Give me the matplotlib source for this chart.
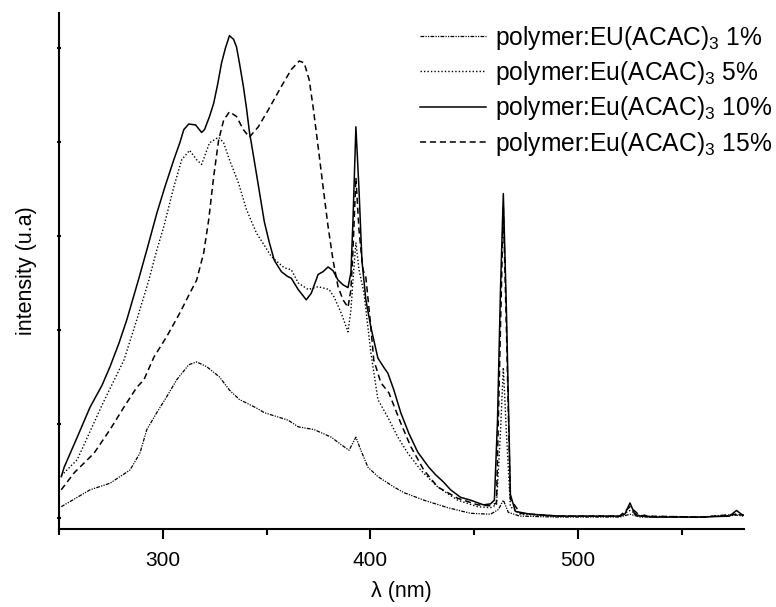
import matplotlib
matplotlib.use("Agg")
import matplotlib.pyplot as plt
from matplotlib.ticker import MultipleLocator, NullFormatter

plt.rcParams["font.family"] = ["Liberation Sans", "DejaVu Sans"]
plt.rcParams["mathtext.fontset"] = "custom"
plt.rcParams["mathtext.rm"] = "Liberation Sans"
plt.rcParams["mathtext.it"] = "Liberation Sans"

# --- data (wavelength in nm, intensity in a.u.) ---
wl_1 = [251.1, 258.8, 265.0, 274.6, 284.2, 289.0, 292.3, 297.1, 301.9, 306.7,
        312.5, 316.3, 321.1, 327.3, 332.1, 336.9, 345.1, 348.9, 360.4, 365.2,
        372.9, 381.1, 385.9, 389.7, 393.0, 395.4, 398.8, 403.6, 411.3, 416.1,
        425.7, 437.2, 448.2, 457.8, 461.6, 464.0, 466.4, 472.0, 490.0, 520.0,
        525.0, 530.0, 560.0, 576.5, 579.6]
int_1 = [0.12, 0.22, 0.30, 0.37, 0.51, 0.69, 0.94, 1.12, 1.29, 1.47,
         1.63, 1.66, 1.61, 1.50, 1.36, 1.26, 1.17, 1.12, 1.04, 0.97,
         0.94, 0.86, 0.78, 0.72, 0.86, 0.72, 0.54, 0.44, 0.33, 0.27,
         0.19, 0.11, 0.05, 0.04, 0.09, 0.19, 0.06, 0.02, 0.01, 0.01,
         0.04, 0.01, 0.01, 0.03, 0.02]

wl_5 = [251.1, 258.8, 270.7, 281.3, 287.5, 293.3, 297.1, 300.5, 305.3, 309.1,
        312.9, 316.3, 318.7, 322.5, 326.9, 329.3, 332.1, 336.5, 340.3, 345.1,
        348.9, 352.3, 358.5, 361.9, 365.2, 370.0, 374.8, 380.1, 382.5, 385.9,
        389.2, 390.6, 391.6, 393.0, 394.5, 396.9, 400.2, 403.6, 408.4, 413.2,
        418.0, 424.2, 432.4, 442.0, 451.6, 457.8, 460.7, 462.6, 464.0, 465.5,
        467.4, 472.2, 490.0, 520.0, 525.0, 530.0, 560.0, 576.5, 579.6]
int_5 = [0.45, 0.62, 1.20, 1.68, 2.11, 2.53, 2.85, 3.10, 3.52, 3.81,
         3.91, 3.81, 3.76, 3.99, 4.05, 3.99, 3.81, 3.56, 3.28, 3.03,
         2.90, 2.78, 2.66, 2.64, 2.50, 2.43, 2.46, 2.43, 2.35, 2.18,
         1.98, 2.21, 2.53, 2.93, 2.64, 2.39, 1.76, 1.26, 1.07, 0.86,
         0.69, 0.51, 0.33, 0.19, 0.12, 0.11, 0.14, 0.9, 1.6, 0.9,
         0.12, 0.04, 0.02, 0.02, 0.08, 0.02, 0.01, 0.04, 0.03]

wl_10 = [251.1, 252.5, 258.8, 265.0, 270.7, 274.6, 278.9, 282.7, 288.5, 292.8,
         297.1, 301.0, 305.3, 308.2, 310.1, 312.5, 315.8, 318.7, 320.1, 322.5,
         324.5, 326.4, 328.3, 330.2, 332.1, 334.1, 335.5, 336.9, 338.8, 340.3,
         341.7, 343.6, 346.0, 348.9, 351.3, 353.7, 357.1, 360.0, 361.9, 365.2,
         369.1, 371.5, 374.8, 377.2, 379.6, 382.0, 384.4, 386.8, 389.2, 390.6,
         391.6, 393.0, 394.5, 395.9, 397.8, 400.2, 403.6, 406.5, 408.4, 411.3,
         414.6, 418.5, 422.8, 428.1, 431.4, 435.3, 438.6, 443.4, 448.2, 454.4,
         457.8, 459.7, 461.2, 462.6, 464.0, 465.5, 467.4, 469.8, 477.0, 491.4,
         510.6, 520.1, 522.5, 525.0, 527.3, 529.7, 532.1, 534.5, 558.5, 572.9,
         576.3, 578.7, 579.6]
int_10 = [0.44, 0.54, 0.86, 1.18, 1.41, 1.61, 1.86, 2.11, 2.55, 2.89,
          3.24, 3.52, 3.81, 3.99, 4.13, 4.19, 4.18, 4.10, 4.13, 4.27,
          4.41, 4.61, 4.84, 5.00, 5.13, 5.09, 5.01, 4.84, 4.59, 4.36,
          4.11, 3.86, 3.54, 3.15, 2.93, 2.74, 2.62, 2.57, 2.55, 2.43,
          2.32, 2.39, 2.59, 2.62, 2.67, 2.63, 2.53, 2.48, 2.45, 2.61,
          3.17, 4.16, 3.49, 2.74, 2.32, 2.03, 1.70, 1.60, 1.54, 1.36,
          1.12, 0.90, 0.70, 0.54, 0.46, 0.38, 0.30, 0.22, 0.19, 0.14,
          0.15, 0.19, 1.04, 2.4, 3.45, 2.2, 0.25, 0.07, 0.04, 0.02,
          0.02, 0.02, 0.04, 0.16, 0.04, 0.02, 0.03, 0.01, 0.01, 0.02,
          0.08, 0.04, 0.03]

wl_15 = [251.1, 257.3, 266.9, 274.6, 281.3, 287.5, 290.9, 295.7, 301.9, 308.2,
         313.0, 316.3, 319.7, 322.1, 324.5, 326.9, 329.3, 332.1, 335.5, 338.8,
         341.7, 346.0, 350.8, 357.1, 361.9, 365.7, 368.1, 370.5, 372.4, 374.8,
         377.2, 379.6, 382.0, 384.4, 386.8, 389.2, 390.6, 391.6, 393.0, 394.5,
         396.4, 397.8, 400.2, 401.6, 405.0, 408.9, 414.6, 419.4, 425.7, 432.4,
         442.0, 451.6, 457.8, 460.7, 462.6, 464.0, 465.5, 467.4, 472.2, 490.0,
         520.0, 525.0, 530.0, 560.0, 576.5, 579.6]
int_15 = [0.30, 0.48, 0.69, 0.94, 1.18, 1.39, 1.47, 1.71, 1.93, 2.18,
          2.39, 2.53, 2.82, 3.17, 3.63, 4.02, 4.23, 4.32, 4.27, 4.13,
          4.05, 4.16, 4.34, 4.59, 4.77, 4.86, 4.84, 4.66, 4.37, 3.95,
          3.52, 3.10, 2.74, 2.46, 2.32, 2.24, 2.43, 2.85, 3.62, 3.06,
          2.64, 2.56, 2.03, 1.68, 1.44, 1.33, 1.01, 0.76, 0.51, 0.33,
          0.21, 0.14, 0.13, 0.16, 2.0, 3.3, 2.0, 0.2, 0.05, 0.02,
          0.02, 0.12, 0.02, 0.01, 0.04, 0.03]

labels = [r"polymer:EU(ACAC)$_3$ 1%", r"polymer:Eu(ACAC)$_3$ 5%",
          r"polymer:Eu(ACAC)$_3$ 10%", r"polymer:Eu(ACAC)$_3$ 15%"]

fig = plt.figure(figsize=(7.76, 6.07), dpi=100)
ax = fig.add_axes([0.076, 0.1285, 0.883, 0.85])

ax.plot(wl_1, int_1, color="k", lw=0.9, ls=(0, (3, 1, 1, 1, 1, 1)), label=labels[0])
ax.plot(wl_5, int_5, color="k", lw=1.0, ls=(0, (1, 1.5)), label=labels[1])
ax.plot(wl_10, int_10, color="k", lw=1.1, ls="-", label=labels[2])
ax.plot(wl_15, int_15, color="k", lw=1.1, ls=(0, (4, 2.5)), label=labels[3])

ax.set_xlim(250, 580)
ax.set_ylim(-0.117, 5.37)

for side in ("top", "right"):
    ax.spines[side].set_visible(False)
for side in ("left", "bottom"):
    ax.spines[side].set_linewidth(1.5)

ax.xaxis.set_major_locator(MultipleLocator(100))
ax.xaxis.set_minor_locator(MultipleLocator(50))
ax.yaxis.set_major_locator(MultipleLocator(1))
ax.yaxis.set_major_formatter(NullFormatter())
ax.tick_params(axis="x", which="major", direction="out", length=7.5, width=1.5,
               labelsize=15, pad=8)
ax.tick_params(axis="x", which="minor", direction="out", length=4, width=1.5)
ax.tick_params(axis="y", which="major", direction="inout", length=3, width=1.5)

ax.set_xlabel("λ (nm)", fontsize=15.5, labelpad=8)
ax.set_ylabel("intensity (u.a)", fontsize=15.5, labelpad=11)

ax.legend(loc="upper right", bbox_to_anchor=(1.062, 1.008), frameon=False,
          fontsize=17.7, handlelength=2.7, handletextpad=0.35, labelspacing=0.3,
          borderaxespad=0.2)

fig.savefig("out.png", dpi=100)
